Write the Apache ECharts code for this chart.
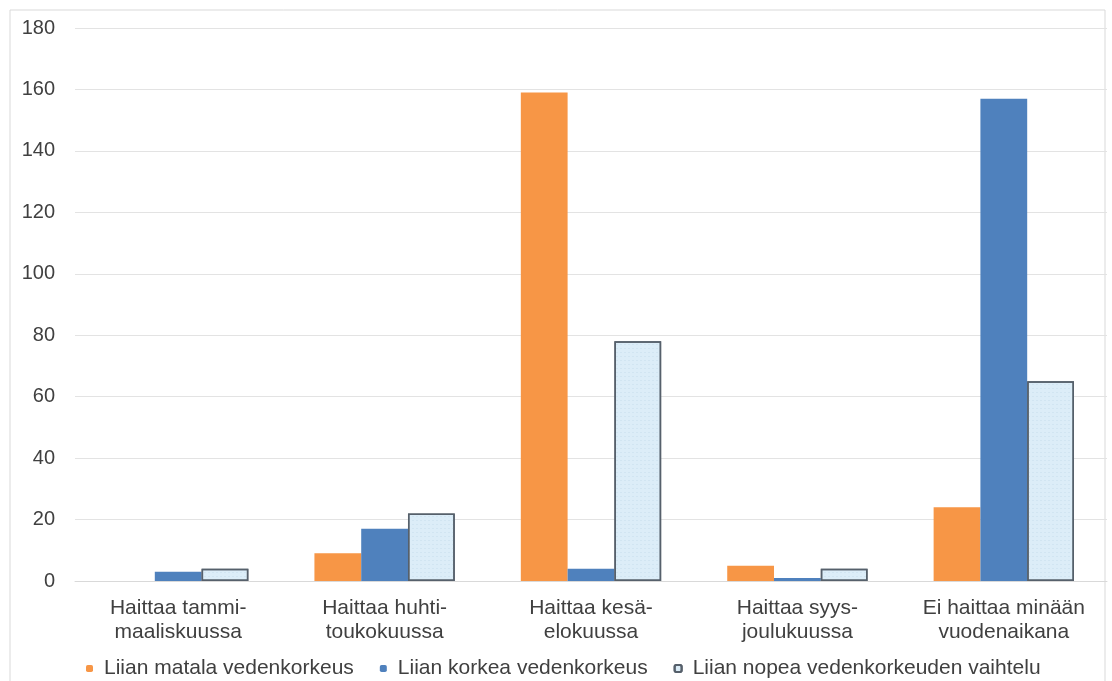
<!DOCTYPE html>
<html>
<head>
<meta charset="utf-8">
<style>
  html, body { margin: 0; padding: 0; background: #fff; }
  #chart { width: 1112px; height: 681px; }
</style>
<script src="https://cdn.jsdelivr.net/npm/echarts@6/dist/echarts.min.js"></script>
</head>
<body>
<div id="chart"></div>
<script>
const categories = [
  'Haittaa tammi-\nmaaliskuussa',
  'Haittaa huhti-\ntoukokuussa',
  'Haittaa kesä-\nelokuussa',
  'Haittaa syys-\njoulukuussa',
  'Ei haittaa minään\nvuodenaikana'
];
const seriesNames = [
  'Liian matala vedenkorkeus',
  'Liian korkea vedenkorkeus',
  'Liian nopea vedenkorkeuden vaihtelu'
];
const matala = [0, 9, 159, 5, 24];
const korkea = [3, 17, 4, 1, 157];
const nopea = [4, 22, 78, 4, 65];

const chart = echarts.init(document.getElementById('chart'));

const font = 'Liberation Sans, Arial, sans-serif';

chart.setOption({
  animation: false,
  textStyle: { fontFamily: font, fontSize: 20, color: '#404040' },
  graphic: [{
    type: 'rect',
    shape: { x: 10, y: 10, width: 1095, height: 680 },
    style: { fill: 'none', stroke: '#d9d9d9', lineWidth: 1 },
    silent: true
  }],
  grid: { left: 75, right: 5, top: 28, bottom: 100 },
  legend: {
    top: 653,
    left: 81,
    itemWidth: 7,
    itemHeight: 7,
    itemGap: 26,
    textStyle: { fontFamily: font, fontSize: 21, color: '#404040', padding: [0, 0, 0, 6] },
    data: seriesNames
  },
  xAxis: {
    type: 'category',
    data: categories,
    axisLine: { lineStyle: { color: '#d9d9d9' } },
    axisTick: { show: false },
    axisLabel: { interval: 0, fontFamily: font, fontSize: 21, color: '#404040', lineHeight: 24, margin: 15 }
  },
  yAxis: {
    type: 'value',
    min: 0,
    max: 180,
    interval: 20,
    axisLine: { show: false },
    axisTick: { show: false },
    splitLine: { lineStyle: { color: '#e3e3e3' } },
    axisLabel: { fontFamily: font, fontSize: 20, color: '#404040', margin: 20 }
  },
  series: [
    {
      name: seriesNames[0],
      type: 'bar',
      data: matala,
      barGap: '0%',
      barCategoryGap: '32%',
      itemStyle: { color: '#f79646' }
    },
    {
      name: seriesNames[1],
      type: 'bar',
      data: korkea,
      itemStyle: { color: '#4f81bd' }
    },
    {
      name: seriesNames[2],
      type: 'bar',
      data: nopea,
      itemStyle: {
        color: '#dcedf8',
        borderColor: '#56606b',
        borderWidth: 1.5,
        decal: {
          symbol: 'rect',
          symbolSize: 0.5,
          dashArrayX: [2, 2],
          dashArrayY: [1, 3],
          color: 'rgba(150,185,210,0.6)'
        }
      }
    }
  ]
});
</script>
</body>
</html>
